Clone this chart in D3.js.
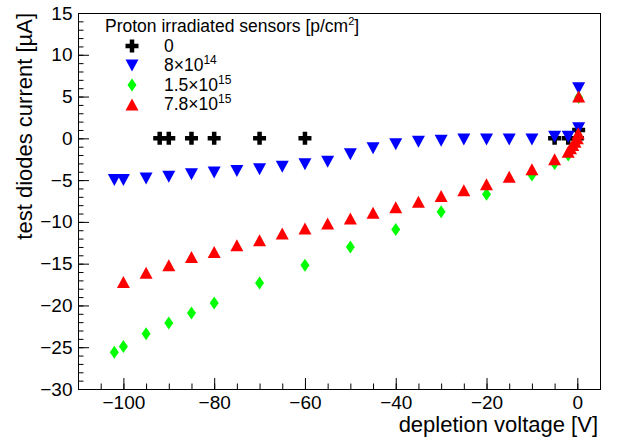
<!DOCTYPE html>
<html lang="en">
<head>
<meta charset="UTF-8">
<title>Test diodes current vs depletion voltage</title>
<style>
  body { margin: 0; background: #fff; font-family: "Liberation Sans", Arial, sans-serif; }
  .tick text { font-family: "Liberation Sans", Arial, sans-serif; font-size: 19px; fill: #000; }
  .tick line { stroke: #000; stroke-width: 1px; }
  .title { font-size: 22px; fill: #000; }
  .legend text { font-size: 17.5px; fill: #000; }
</style>
</head>
<body>
<div id="chart"></div>
<script src="https://d3js.org/d3.v7.min.js"></script>
<script>
// fluence 0
var v0 = [-92, -90, -85, -80, -70, -60, -5, -2, 0, 0.3];
var i0 = [0, 0, 0, 0, 0, 0, 0, 0, 0, 1.0];
// 8x10^14
var v1 = [-102, -100, -95, -90, -85, -80, -75, -70, -65, -60, -55, -50, -45, -40, -35, -30, -25, -20, -15, -10, -5, -2, 0.3, 0.3];
var i1 = [-5.0, -5.0, -4.8, -4.6, -4.3, -4.1, -3.9, -3.7, -3.4, -3.1, -2.8, -1.9, -1.2, -0.7, -0.42, -0.3, -0.15, -0.15, -0.15, -0.15, 0.2, 0.2, 1.2, 6.0];
// 1.5x10^15
var v2 = [-102, -100, -95, -90, -85, -80, -70, -60, -50, -40, -30, -20, -10, -5, -2, -1, 0, 0.3];
var i2 = [-25.6, -24.9, -23.4, -22.1, -20.9, -19.7, -17.3, -15.2, -13.0, -10.9, -8.8, -6.7, -4.4, -3.0, -2.0, -1.2, -0.3, 4.9];
// 7.8x10^15
var v3 = [-100, -95, -90, -85, -80, -75, -70, -65, -60, -55, -50, -45, -40, -35, -30, -25, -20, -15, -10, -5, -2, -1.5, -1, -0.5, 0, 0.2, 0.3];
var i3 = [-17.2, -16.1, -15.2, -14.2, -13.6, -12.8, -12.2, -11.4, -10.8, -10.2, -9.6, -8.9, -8.25, -7.6, -6.9, -6.2, -5.5, -4.6, -3.7, -2.5, -1.6, -1.2, -0.8, -0.4, 0, 0.6, 5.0];

var xTicks = [-100, -80, -60, -40, -20, 0];
var yTicks = [-30, -25, -20, -15, -10, -5, 0, 5, 10, 15];

var width = 618, height = 441;
var padL = 78, padR = 600, padT = 13, padB = 389;

var x = d3.scaleLinear().domain([-110, 5]).range([padL, padR]);
var y = d3.scaleLinear().domain([-30, 15]).range([padB, padT]);

var svg = d3.select('#chart').append('svg')
  .attr('width', width)
  .attr('height', height);

// marker shapes
function cross(s, t) {
  var a = s / 2, b = t / 2;
  return 'M' + (-b) + ',' + (-a) + 'H' + b + 'V' + (-b) + 'H' + a + 'V' + b + 'H' + b + 'V' + a +
    'H' + (-b) + 'V' + b + 'H' + (-a) + 'V' + (-b) + 'H' + (-b) + 'Z';
}
function triDown(w, h) {
  return 'M' + (-w / 2) + ',' + (-h / 2) + 'H' + (w / 2) + 'L0,' + (h / 2) + 'Z';
}
function triUp(w, h) {
  return 'M' + (-w / 2) + ',' + (h / 2) + 'H' + (w / 2) + 'L0,' + (-h / 2) + 'Z';
}
function diamond(w, h) {
  return 'M0,' + (-h / 2) + 'L' + (w / 2) + ',0L0,' + (h / 2) + 'L' + (-w / 2) + ',0Z';
}

var series = [
  { v: v0, i: i0, color: '#000000', path: cross(13, 4.5), label: ['0', ''] },
  { v: v1, i: i1, color: '#0000ff', path: triDown(13, 12), label: ['8\u00d710', '14'] },
  { v: v2, i: i2, color: '#00ff00', path: diamond(9, 13), label: ['1.5\u00d710', '15'] },
  { v: v3, i: i3, color: '#ff0000', path: triUp(13, 12), label: ['7.8\u00d710', '15'] }
];

// axes: minor ticks
svg.append('g')
  .attr('transform', 'translate(0,' + padB + ')')
  .call(d3.axisBottom(x).tickValues(d3.range(-105, 5.1, 5)).tickSize(-5.5).tickFormat(''))
  .call(function(g) { g.select('.domain').remove(); });
svg.append('g')
  .attr('transform', 'translate(' + padL + ',0)')
  .call(d3.axisLeft(y).tickValues(d3.range(-29, 15, 1)).tickSize(-5.5).tickFormat(''))
  .call(function(g) { g.select('.domain').remove(); });

// axes: major ticks with labels
var fmt = function(d) { return d < 0 ? '\u2212' + Math.abs(d) : String(d); };
svg.append('g')
  .attr('transform', 'translate(0,' + padB + ')')
  .call(d3.axisBottom(x).tickValues(xTicks).tickSize(-11).tickPadding(6.5).tickFormat(fmt))
  .call(function(g) { g.select('.domain').remove(); });
svg.append('g')
  .attr('transform', 'translate(' + padL + ',0)')
  .call(d3.axisLeft(y).tickValues(yTicks).tickSize(-11).tickPadding(5.5).tickFormat(fmt))
  .call(function(g) { g.select('.domain').remove(); });

svg.selectAll('.tick text')
  .style('font-family', '"Liberation Sans", Arial, sans-serif')
  .style('font-size', '19px');

// frame
svg.append('rect')
  .attr('x', padL + 0.5).attr('y', padT + 0.5)
  .attr('width', padR - padL).attr('height', padB - padT)
  .attr('fill', 'none').attr('stroke', '#000').attr('stroke-width', 1);

// axis titles
svg.append('text')
  .attr('class', 'title')
  .attr('x', 598).attr('y', 432)
  .attr('text-anchor', 'end')
  .text('depletion voltage [V]');
svg.append('text')
  .attr('class', 'title')
  .attr('transform', 'translate(32,13) rotate(-90)')
  .attr('text-anchor', 'end')
  .text('test diodes current [\u00b5A]');

// points
series.forEach(function(s) {
  svg.append('g').selectAll('path')
    .data(s.v.map(function(d, k) { return [d, s.i[k]]; }))
    .enter().append('path')
    .attr('d', s.path)
    .attr('fill', s.color)
    .attr('transform', function(d) { return 'translate(' + x(d[0]) + ',' + y(d[1]) + ')'; });
});

// legend
var legend = svg.append('g').attr('class', 'legend');
var head = legend.append('text').attr('x', 105).attr('y', 32);
head.append('tspan').text('Proton irradiated sensors [p/cm');
head.append('tspan').attr('dy', -7).style('font-size', '11px').text('2');
head.append('tspan').attr('dy', 7).text(']');

series.forEach(function(s, k) {
  var cy = 46 + k * 19.5;
  legend.append('path')
    .attr('d', s.path)
    .attr('fill', s.color)
    .attr('transform', 'translate(132,' + cy + ')');
  var t = legend.append('text').attr('x', 164).attr('y', cy + 5.5);
  t.append('tspan').text(s.label[0]);
  if (s.label[1]) {
    t.append('tspan').attr('dy', -7).style('font-size', '12px').text(s.label[1]);
  }
});
</script>
</body>
</html>
